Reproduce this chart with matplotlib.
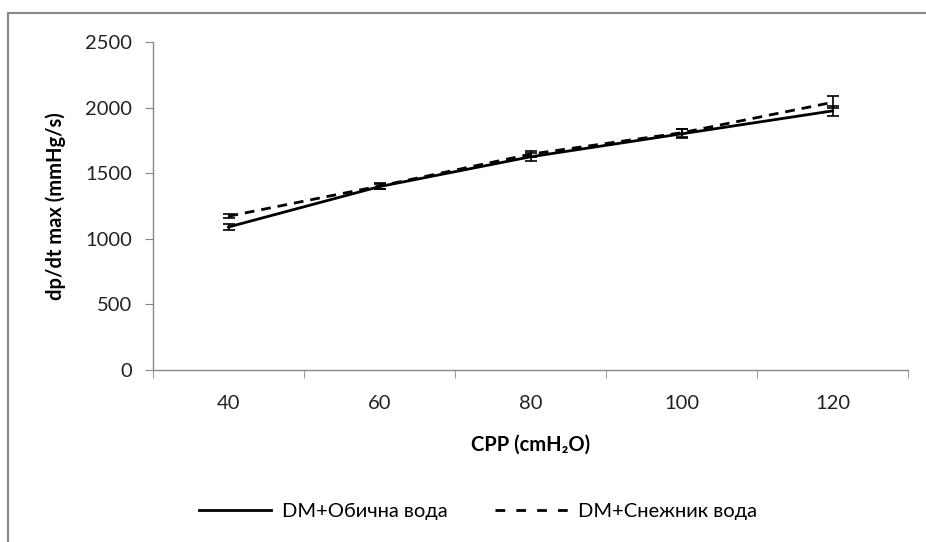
import matplotlib
matplotlib.use("Agg")
import matplotlib.pyplot as plt
from matplotlib.lines import Line2D

plt.rcParams['font.family'] = ['Lato', 'DejaVu Sans']

categories = ["40", "60", "80", "100", "120"]
solid_vals = [1090, 1398, 1625, 1800, 1975]
solid_err = [25, 22, 30, 35, 40]
dashed_vals = [1172, 1402, 1645, 1808, 2040]
dashed_err = [15, 20, 25, 30, 45]
series_names = ["DM+Обична вода", "DM+Снежник вода"]

fig = plt.figure(figsize=(9.26, 5.42), dpi=100)
ax = fig.add_axes([153/926, 1-370/542, (908-153)/926, (370-42)/542])

x = list(range(len(categories)))
ax.errorbar(x, solid_vals, yerr=solid_err, color='black', lw=2, capsize=4,
            elinewidth=1.2, capthick=1.2, linestyle='-')
ax.errorbar(x, dashed_vals, yerr=dashed_err, color='black', lw=2, capsize=4,
            elinewidth=1.2, capthick=1.2, linestyle=(0, (3.5, 2.5)))

ax.set_xlim(-0.5, len(categories) - 0.5)
ax.set_ylim(0, 2500)
ax.set_yticks(range(0, 2501, 500))
ax.set_xticks(x)
ax.set_xticklabels(categories)
ax.set_xticks([i - 0.5 for i in range(len(categories) + 1)], minor=True)
ax.tick_params(axis='x', which='major', length=0, pad=18, labelsize=14.5, colors='#222222')
ax.tick_params(axis='x', which='minor', length=6, color='#888888', direction='out')
ax.tick_params(axis='y', length=6, color='#888888', labelsize=14.5, pad=9, labelcolor='#222222')

for s in ['top', 'right']:
    ax.spines[s].set_visible(False)
for s in ['left', 'bottom']:
    ax.spines[s].set_color('#888888')
    ax.spines[s].set_linewidth(1)

ax.set_xlabel("CPP (cmH₂O)", fontsize=14.5, fontweight='bold', labelpad=16)
ax.set_ylabel("dp/dt max (mmHg/s)", fontsize=14.5, fontweight='bold', labelpad=14)

handles = [Line2D([0], [0], color='black', lw=2, linestyle='-'),
           Line2D([0], [0], color='black', lw=2, linestyle=(0, (3.5, 4)))]
fig.legend(handles, series_names, loc='center', bbox_to_anchor=(478/926, 1-511/542),
           ncol=2, frameon=False, fontsize=14.5, handlelength=3.6, columnspacing=2.4,
           handletextpad=0.5)

# outer chart border (left and top visible)
fig.add_artist(Line2D([7.5/926, 7.5/926], [0, 1-12.5/542], transform=fig.transFigure,
                      color='#888888', lw=1.5))
fig.add_artist(Line2D([7.5/926, 1], [1-12.5/542, 1-12.5/542], transform=fig.transFigure,
                      color='#888888', lw=1.5))

fig.savefig("out.png", dpi=100)
